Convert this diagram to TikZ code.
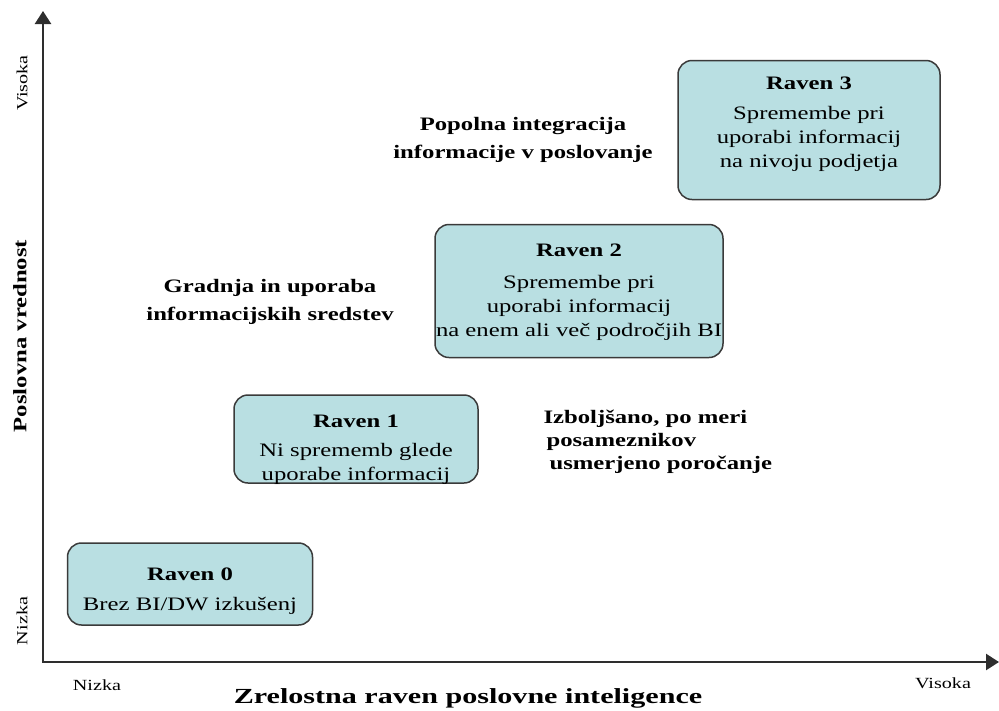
\documentclass[tikz,border=0pt]{standalone}
\usepackage{fontspec}
\setmainfont{Liberation Serif}[FakeStretch=1.3]
\newfontfamily\widefont{Liberation Serif}[FakeStretch=1.4]
\usetikzlibrary{arrows.meta}
\definecolor{LevelFill}{HTML}{B9DFE2}
\definecolor{LevelEdge}{HTML}{3A3A3A}
\definecolor{AxisGray}{HTML}{2E2E2E}

\begin{document}
\begin{tikzpicture}[
  x=1pt, y=-1pt,
  level/.style={rectangle, draw=LevelEdge, line width=1.5pt, fill=LevelFill, rounded corners=14pt, inner sep=0pt},
  leveltext/.style={align=center, inner sep=0pt, font=\fontsize{19}{24}\selectfont},
  note/.style={align=center, font=\fontsize{19}{28}\selectfont\bfseries},
  tick/.style={font=\fontsize{15.5}{18}\selectfont},
  axis/.style={line width=2.5pt, AxisGray, line join=miter, {Triangle[length=13pt,width=16pt]}-{Triangle[length=13pt,width=16pt]}}
]
  \useasboundingbox (0,0) rectangle (999,710);

  % axes
  \coordinate (ytop) at (43,11);
  \coordinate (origin) at (43,662);
  \coordinate (xend) at (999,662);
  \draw[axis] (ytop) -- (origin) -- (xend);

  % levels
  \node[level, minimum width=245pt, minimum height=82pt,
    label={[leveltext, yshift=-7pt]center:{\textbf{Raven 0}\\[6pt] Brez BI/DW izkušenj}}] (raven0) at (190,584) {};
  \node[level, minimum width=244pt, minimum height=88pt,
    label={[leveltext, yshift=-11pt]center:{\textbf{Raven 1}\\[5pt] Ni sprememb glede\\ uporabe informacij}}] (raven1) at (356,439) {};
  \node[level, minimum width=288pt, minimum height=133pt,
    label={[leveltext, yshift=-1pt]center:{\textbf{Raven 2}\\[8pt] Spremembe pri\\ uporabi informacij\\ na enem ali več področjih BI}}] (raven2) at (579,291) {};
  \node[level, minimum width=262pt, minimum height=139pt,
    label={[leveltext, yshift=6pt]center:{\textbf{Raven 3}\\[6pt] Spremembe pri\\ uporabi informacij\\ na nivoju podjetja}}] (raven3) at (809,130) {};

  % descriptions
  \node[note] (integration) at (523,140) {Popolna integracija\\ informacije v poslovanje};
  \node[note] (assets) at (270,302) {Gradnja in uporaba\\ informacijskih sredstev};
  \node[note, align=left, anchor=west, font=\fontsize{19}{23}\selectfont\bfseries] (reporting) at (540,442) {Izboljšano, po meri\\ \hspace{3pt}posameznikov\\ \hspace{6pt}usmerjeno poročanje};

  % axis labels
  \node[tick, rotate=90] (yhigh) at (22,83) {Visoka};
  \node[note, rotate=90] (ytitle) at (20,336) {Poslovna vrednost};
  \node[tick, rotate=90] (ylow) at (22,621) {Nizka};
  \node[tick] (xlow) at (97,685) {Nizka};
  \node[tick] (xhigh) at (943,683) {Visoka};
  \node[font=\widefont\fontsize{21.5}{24}\selectfont\bfseries] (xtitle) at (468,698) {Zrelostna raven poslovne inteligence};
\end{tikzpicture}
\end{document}
